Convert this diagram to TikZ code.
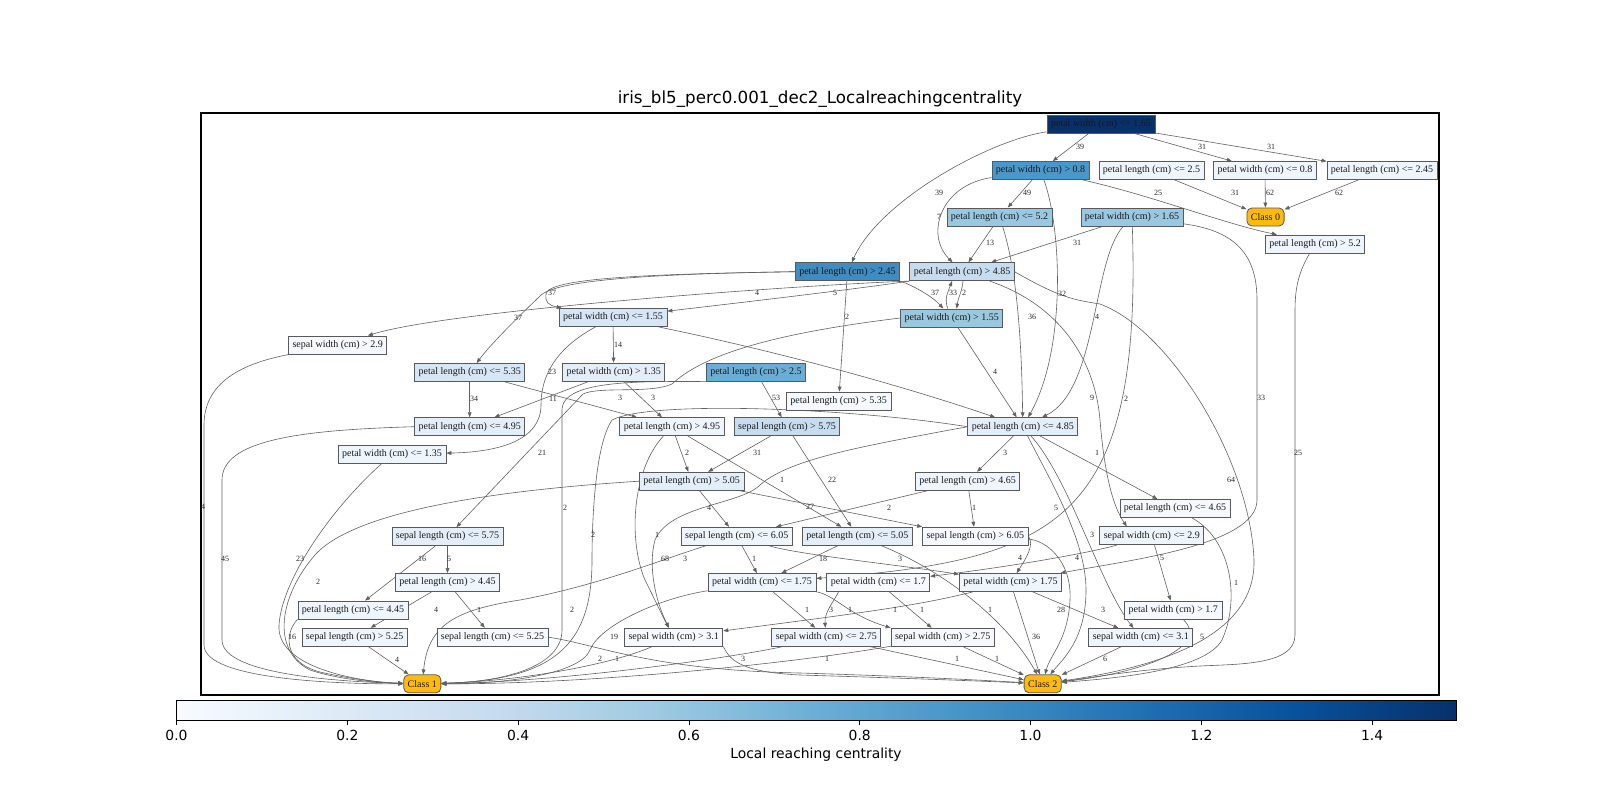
\documentclass[tikz,border=0pt]{standalone}
\usepackage{fontspec}
\setmainfont{Liberation Serif}
\newfontfamily\dejavu{DejaVu Sans}
\usetikzlibrary{arrows.meta}
\pgfdeclarelayer{bg}
\pgfsetlayers{bg,main}
\definecolor{b0}{HTML}{F5F9FE}
\definecolor{b1}{HTML}{EEF5FC}
\definecolor{b2}{HTML}{E3EEF9}
\definecolor{b3}{HTML}{D6E6F4}
\definecolor{b4}{HTML}{C8DCF0}
\definecolor{b5}{HTML}{9AC8E0}
\definecolor{b6}{HTML}{6AAED6}
\definecolor{b7}{HTML}{4A98C9}
\definecolor{b8}{HTML}{3D8DC4}
\definecolor{b9}{HTML}{08306B}
\definecolor{clsc}{HTML}{FFBA10}
\definecolor{cb0}{HTML}{F7FBFF}
\definecolor{cb1}{HTML}{DEEBF7}
\definecolor{cb2}{HTML}{C6DBEF}
\definecolor{cb3}{HTML}{9ECAE1}
\definecolor{cb4}{HTML}{6BAED6}
\definecolor{cb5}{HTML}{4292C6}
\definecolor{cb6}{HTML}{2171B5}
\definecolor{cb7}{HTML}{08519C}
\definecolor{cb8}{HTML}{08306B}
\pgfdeclarehorizontalshading{bluesh}{100bp}{color(0bp)=(cb0); color(25bp)=(cb0); color(31.25bp)=(cb1); color(37.5bp)=(cb2); color(43.75bp)=(cb3); color(50bp)=(cb4); color(56.25bp)=(cb5); color(62.5bp)=(cb6); color(68.75bp)=(cb7); color(75bp)=(cb8); color(100bp)=(cb8)}
\tikzset{
  dt/.style={draw=black!65, line width=0.8pt, rectangle, minimum height=18pt, inner xsep=4pt, inner ysep=0pt, font=\fontsize{10}{12}\selectfont, text=black!90},
  cls/.style={dt, rounded corners=5pt, fill=clsc},
  cn/.style={draw=black!62, line width=0.6pt, -{Triangle[length=5pt,width=3.8pt]}},
  lbl/.style={font=\fontsize{8}{9}\selectfont, inner sep=0pt, text=black!85},
}
\begin{document}
\begin{tikzpicture}[x=1pt,y=-1pt]
\useasboundingbox (0,0) rectangle (1600,800);
% title
\node[font=\dejavu\fontsize{16.7}{20}\selectfont] (title) at (820,99) {iris\_bl5\_perc0.001\_dec2\_Localreachingcentrality};
% frame
\draw[line width=1.1pt] (201,113) rectangle (1439,695);
% nodes
\node[dt,fill=b9] (r) at (1101,124) {petal width (cm) <= 1.65};
\node[dt,fill=b7] (a08) at (1040.5,170.5) {petal width (cm) > 0.8};
\node[dt,fill=b1] (b25) at (1151.5,170.5) {petal length (cm) <= 2.5};
\node[dt,fill=b1] (c08) at (1265,170.5) {petal width (cm) <= 0.8};
\node[dt,fill=b1] (d245) at (1382,170.5) {petal length (cm) <= 2.45};
\node[cls] (k0) at (1265.5,217) {Class 0};
\node[dt,fill=b5] (e52) at (999.5,217) {petal length (cm) <= 5.2};
\node[dt,fill=b5] (f165) at (1132,217) {petal width (cm) > 1.65};
\node[dt,fill=b1] (g52) at (1315,244) {petal length (cm) > 5.2};
\node[dt,fill=b8] (h245) at (847.5,271.7) {petal length (cm) > 2.45};
\node[dt,fill=b4] (i485) at (962,271.7) {petal length (cm) > 4.85};
\node[dt,fill=b3] (j155) at (613,317.5) {petal width (cm) <= 1.55};
\node[dt,fill=b5] (m155) at (951.7,318) {petal width (cm) > 1.55};
\node[dt,fill=b0] (n29) at (337.7,345) {sepal width (cm) > 2.9};
\node[dt,fill=b3] (o535) at (469.7,372.5) {petal length (cm) <= 5.35};
\node[dt,fill=b2] (p135) at (613.7,372) {petal width (cm) > 1.35};
\node[dt,fill=b6] (q25) at (756,372) {petal length (cm) > 2.5};
\node[dt,fill=b0] (s535) at (838.7,401) {petal length (cm) > 5.35};
\node[dt,fill=b2] (t495) at (469.7,426.7) {petal length (cm) <= 4.95};
\node[dt,fill=b1] (u495) at (672,426.7) {petal length (cm) > 4.95};
\node[dt,fill=b4] (v575) at (787,426.7) {sepal length (cm) > 5.75};
\node[dt,fill=b2] (w485) at (1022.8,426.7) {petal length (cm) <= 4.85};
\node[dt,fill=b1] (x135) at (392,454.3) {petal width (cm) <= 1.35};
\node[dt,fill=b2] (y505) at (691.7,481.2) {petal length (cm) > 5.05};
\node[dt,fill=b1] (z465) at (967.5,481.2) {petal length (cm) > 4.65};
\node[dt,fill=b0] (aa465) at (1175,508.5) {petal length (cm) <= 4.65};
\node[dt,fill=b2] (bb575) at (447.5,536.5) {sepal length (cm) <= 5.75};
\node[dt,fill=b1] (cc605) at (736.7,536.2) {sepal length (cm) <= 6.05};
\node[dt,fill=b2] (dd505) at (857.3,536.2) {petal length (cm) <= 5.05};
\node[dt,fill=b0] (ee605) at (975.3,536.2) {sepal length (cm) > 6.05};
\node[dt,fill=b1] (ff29) at (1151.8,535.8) {sepal width (cm) <= 2.9};
\node[dt,fill=b1] (gg445) at (447.5,582.5) {petal length (cm) > 4.45};
\node[dt,fill=b1] (hh175) at (762,582.5) {petal width (cm) <= 1.75};
\node[dt,fill=b0] (ii17) at (878.3,582.5) {petal width (cm) <= 1.7};
\node[dt,fill=b1] (jj175) at (1010.5,582.5) {petal width (cm) > 1.75};
\node[dt,fill=b1] (kk445) at (353,610) {petal length (cm) <= 4.45};
\node[dt,fill=b0] (ll17) at (1173.3,610) {petal width (cm) > 1.7};
\node[dt,fill=b1] (mm525) at (354.7,637.2) {sepal length (cm) > 5.25};
\node[dt,fill=b0] (nn525) at (492.5,637.2) {sepal length (cm) <= 5.25};
\node[dt,fill=b0] (oo31) at (673.7,637.2) {sepal width (cm) > 3.1};
\node[dt,fill=b1] (pp275) at (826.3,637.2) {sepal width (cm) <= 2.75};
\node[dt,fill=b0] (qq275) at (942.7,637.2) {sepal width (cm) > 2.75};
\node[dt,fill=b1] (rr31) at (1140.8,637.5) {sepal width (cm) <= 3.1};
\node[cls] (k1) at (422.3,683.8) {Class 1};
\node[cls] (k2) at (1042.7,683.8) {Class 2};
% edges
\begin{pgfonlayer}{bg}
\draw[cn] (r) -- (a08);
\draw[cn] (r) -- (c08);
\draw[cn] (r) -- (d245);
\draw[cn] (r) .. controls (990,140) and (880,200) .. (h245);
\draw[cn] (a08) -- (e52);
\draw[cn] (a08) .. controls (940,185) and (925,235) .. (i485);
\draw[cn] (a08) .. controls (1150,195) and (1225,224) .. ([xshift=12pt]g52.north west);
\draw[cn] (a08) .. controls (1062,230) and (1066,350) .. (w485);
\draw[cn] (b25) -- (k0);
\draw[cn] (c08) -- (k0);
\draw[cn] (d245) -- (k0);
\draw[cn] (e52) -- (i485);
\draw[cn] (e52) .. controls (1020,280) and (1022,370) .. (w485);
\draw[cn] (f165) -- (i485);
\draw[cn] (f165) .. controls (1092,260) and (1098,390) .. (w485);
\draw[cn] (f165) .. controls (1142,520) and (1060,560) .. (hh175);
\draw[cn] (f165) .. controls (1230,230) and (1257,250) .. (1257,300) -- (1257,500) .. controls (1257,545) and (1130,560) .. (jj175);
\draw[cn] (g52) .. controls (1300,270) and (1295,285) .. (1295,310) -- (1295,635) .. controls (1295,665) and (1240,664) .. (1200,666) .. controls (1130,670) and (1090,678) .. (k2);
\draw[cn] (h245.west) .. controls (650,274) and (548,278) .. (546,294) .. controls (545,302) and (548,305) .. ([xshift=3pt]j155.north west);
\draw[cn] (h245.west) .. controls (650,274) and (555,280) .. (540,296) .. controls (515,320) and (490,345) .. (o535);
\draw[cn] (h245) -- (s535);
\draw[cn] (h245.south east) .. controls (912,285) and (932,296) .. (m155);
\draw[cn] ([xshift=-4pt]m155.north) .. controls (944,298) and (948,292) .. ([xshift=-10pt]i485.south);
\draw[cn] ([xshift=1pt]i485.south) .. controls (962,292) and (958,298) .. ([xshift=5pt]m155.north);
\draw[cn] (i485.south west) .. controls (800,285) and (450,310) .. (n29);
\draw[cn] (i485.south west) .. controls (850,290) and (720,305) .. (j155);
\draw[cn] (i485) .. controls (1060,305) and (1095,360) .. (1100,420) .. controls (1104,470) and (1112,505) .. ([xshift=-25pt]ff29.north);
\draw[cn] (i485.east) .. controls (1060,298) and (1075,300) .. (1100,304) .. controls (1170,330) and (1250,460) .. (1254,560) .. controls (1256,640) and (1150,668) .. (k2);
\draw[cn] (m155) -- (w485);
\draw[cn] (m155.west) .. controls (760,335) and (700,358) .. (672,384) .. controls (650,394) and (600,386) .. (583,394) -- (bb575);
\draw[cn] (j155) -- (p135);
\draw[cn] (j155) .. controls (562,345) and (541,370) .. (541,405) .. controls (541,440) and (500,452) .. (x135);
\draw[cn] (j155) .. controls (780,352) and (900,385) .. (w485);
\draw[cn] (p135) -- (t495);
\draw[cn] (p135) -- (u495);
\draw[cn] (o535) -- (t495);
\draw[cn] (o535) -- (u495);
\draw[cn] (q25) -- (v575);
\draw[cn] (q25.south west) .. controls (650,382) and (562,378) .. (562,410) -- (562,630) .. controls (562,668) and (500,682) .. (k1);
\draw[cn] (t495.west) .. controls (300,430) and (222,440) .. (222,480) -- (222,640) .. controls (222,676) and (350,682) .. (k1);
\draw[cn] (n29) .. controls (250,362) and (204,378) .. (204,425) -- (204,645) .. controls (204,680) and (340,684) .. (k1);
\draw[cn] (x135) .. controls (330,510) and (282,580) .. (279,625) .. controls (276,668) and (360,682) .. (k1);
\draw[cn] (y505.west) .. controls (500,490) and (355,510) .. (315,555) .. controls (280,595) and (270,650) .. (310,670) .. controls (340,680) and (380,683) .. (k1);
\draw[cn] (kk445.south west) .. controls (285,632) and (282,662) .. (320,672) .. controls (355,680) and (385,683) .. (k1);
\draw[cn] (mm525) -- (k1);
\draw[cn] (bb575) -- (kk445);
\draw[cn] (bb575) -- (gg445);
\draw[cn] (gg445) -- (mm525);
\draw[cn] (gg445) -- (nn525);
\draw[cn] (nn525.east) .. controls (600,645) and (650,670) .. (800,673) .. controls (900,676) and (980,680) .. (k2);
\draw[cn] (oo31) .. controls (610,665) and (520,681) .. (k1);
\draw[cn] (oo31.south east) .. controls (730,660) and (740,672) .. (800,675) .. controls (900,678) and (980,681) .. (k2);
\draw[cn] (pp275) .. controls (730,658) and (560,682) .. (k1);
\draw[cn] (qq275) .. controls (800,662) and (600,684) .. (k1);
\draw[cn] (pp275) -- (k2);
\draw[cn] (qq275) -- (k2);
\draw[cn] (hh175) -- (pp275);
\draw[cn] (hh175) .. controls (835,595) and (848,615) .. (qq275.north west);
\draw[cn] (hh175) .. controls (660,598) and (600,625) .. (590,650) .. controls (580,675) and (500,684) .. (k1);
\draw[cn] ([xshift=12pt]ii17.south west) .. controls (835,600) and (824,612) .. (pp275);
\draw[cn] (ii17) -- (qq275);
\draw[cn] (jj175) .. controls (920,605) and (870,612) .. (oo31);
\draw[cn] (jj175) -- (k2);
\draw[cn] (jj175) -- (rr31);
\draw[cn] (ll17) .. controls (1210,645) and (1150,672) .. (k2);
\draw[cn] (rr31) -- (k2);
\draw[cn] (aa465) .. controls (1232,540) and (1240,600) .. (1222,640) .. controls (1205,670) and (1120,678) .. (k2);
\draw[cn] (w485) -- (z465);
\draw[cn] (w485) -- (aa465);
\draw[cn] (w485) .. controls (1050,480) and (1086,540) .. (1086,590) .. controls (1086,640) and (1062,660) .. (k2);
\draw[cn] (w485) .. controls (1070,480) and (1100,585) .. (rr31);
\draw[cn] (w485.west) .. controls (850,408) and (650,400) .. (612,420) .. controls (595,445) and (592,520) .. (592,560) .. controls (592,640) and (560,680) .. (k1);
\draw[cn] (w485.west) .. controls (870,445) and (790,458) .. (760,485) .. controls (740,505) and (670,505) .. (655,540) .. controls (648,565) and (655,600) .. (oo31);
\draw[cn] (u495) .. controls (632,470) and (628,540) .. (645,580) .. controls (655,600) and (662,615) .. (oo31);
\draw[cn] (u495) -- (y505);
\draw[cn] (u495) -- (dd505);
\draw[cn] (v575) -- (y505);
\draw[cn] (v575) -- (dd505);
\draw[cn] (y505) -- (cc605);
\draw[cn] (y505) -- (ee605.north west);
\draw[cn] (z465) -- (cc605);
\draw[cn] (z465) -- (ee605);
\draw[cn] (cc605) -- (hh175);
\draw[cn] (cc605) .. controls (800,555) and (900,565) .. (jj175);
\draw[cn] (cc605) .. controls (660,560) and (600,585) .. (520,600) .. controls (455,610) and (428,625) .. (k1);
\draw[cn] (dd505) -- (hh175);
\draw[cn] (dd505) .. controls (930,565) and (1000,610) .. (k2);
\draw[cn] (ee605) .. controls (1045,540) and (1072,560) .. (1070,600) .. controls (1068,640) and (1050,655) .. (k2);
\draw[cn] (ee605.east) .. controls (1035,545) and (1025,560) .. (jj175);
\draw[cn] (ff29) -- (ll17);
\draw[cn] (ff29) .. controls (1080,555) and (1000,568) .. (ii17);
\end{pgfonlayer}
% edge labels
\foreach \x/\y/\t [count=\i] in {1080/147/39, 1202/147/31, 1271/147/31, 939/193/39, 1027/193/49, 939/217/7, 1158/193/25, 1235/193/31, 1270/193/62, 1339/193/62,
 990/243/13, 1077/243/31, 1062/294/32, 1032/317/36, 1097/317/4, 1126/399/2, 1261/398/33, 1298/453/25, 1092/398/9, 1097/453/1,
 1231/480/64, 1056/508/5, 1092/535/3, 1020/558/4, 1077/558/4, 1061/610/28, 1103/610/3, 1036/637/36, 1202/637/5, 1236/583/1,
 1105/659/6, 1162/558/5, 552/293/37, 518/318/37, 757/293/4, 835/293/5, 935/293/37, 953/293/33, 964/293/2, 847/317/2,
 618/345/14, 552/372/23, 995/372/4, 776/398/53, 474/399/34, 553/399/11, 620/398/3, 653/398/3, 757/453/31, 687/453/2,
 782/480/1, 832/480/22, 1005/453/3, 542/453/21, 203/507/4, 565/508/2, 593/535/2, 810/507/27, 709/508/4, 889/508/2,
 974/508/1, 657/535/1, 225/559/45, 300/559/23, 422/559/16, 449/559/5, 665/559/68, 685/559/3, 754/559/1, 823/559/18,
 900/559/3, 318/582/2, 436/610/4, 479/610/1, 572/610/2, 807/610/1, 831/610/3, 850/610/1, 895/610/1, 922/610/1,
 990/610/1, 292/637/16, 614/637/19, 397/660/4, 600/659/2, 617/659/1, 743/659/3, 827/659/1, 957/659/1, 997/659/1}
 \node[lbl] (L\i) at (\x,\y) {\t};
% colorbar
\shade[shading=bluesh] (176.5,700) rectangle (1456,720);
\draw[line width=0.8pt] (176.5,700) rectangle (1456,720);
\foreach \v [count=\k from 0] in {0.0,0.2,0.4,0.6,0.8,1.0,1.2,1.4} {
  \draw[line width=0.8pt] (176.5+\k*170.8,720) -- (176.5+\k*170.8,725);
  \node[font=\dejavu\fontsize{13.9}{16}\selectfont] (T\k) at (176.5+\k*170.8,735) {\v};
}
\node[font=\dejavu\fontsize{13.9}{16}\selectfont] (cbl) at (816,755) {Local reaching centrality};
\end{tikzpicture}
\end{document}
